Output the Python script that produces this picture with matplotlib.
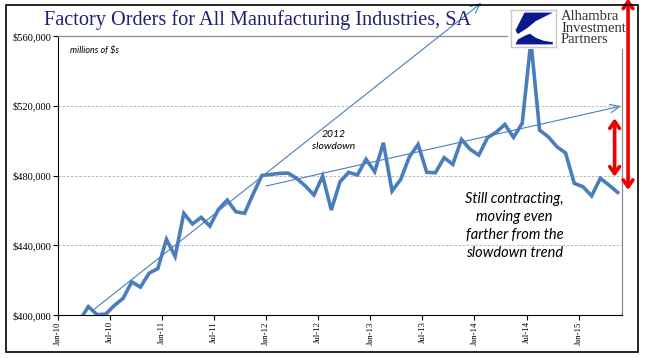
import matplotlib
matplotlib.use("Agg")
import matplotlib.pyplot as plt
from matplotlib.patches import Rectangle, Polygon, FancyArrowPatch
from matplotlib.ticker import FuncFormatter

# monthly factory orders, Jan-10 .. May-15, thousands of millions shown as $
orders = [388, 392, 397, 404.8, 400.2, 400.5, 405.5, 409.5, 419, 416,
          424, 426.6, 443.4, 433.6, 458.3, 452.2, 456, 451, 460.6, 465.9,
          459.2, 458.3, 469.5, 480, 480.6, 481.2, 481.4, 478.4, 474, 468.8,
          479.7, 460.2, 476.4, 481.8, 480.3, 489.3, 482.2, 498.8, 471.1, 477.8,
          490.8, 497.8, 481.8, 481.6, 490.2, 486.4, 500.7, 495, 491.7, 501.7,
          504.8, 509.3, 501.9, 509.9, 557, 506, 502.2, 496.5, 492.9, 475.5,
          473.6, 468.3, 478.4, 474.5, 470.3]
tick_labels = ["Jan-10", "Jul-10", "Jan-11", "Jul-11", "Jan-12", "Jul-12",
               "Jan-13", "Jul-13", "Jan-14", "Jul-14", "Jan-15"]
y_ticks = [400000, 440000, 480000, 520000, 560000]

# hand drawn trend arrows (month position, value)
early_trend = [(4.2, 403.4), (48.8, 579)]
slowdown_trend = [(24.0, 474), (64.9, 519.8)]
gap_short = [(64.15, 512.8), (64.15, 479.3)]
gap_long = [(65.7, 471.7), (65.7, 581.5)]

blue = "#4a7ebb"
serif = "Liberation Serif"

fig = plt.figure(figsize=(6.67, 3.58), dpi=100)
ax = fig.add_axes([58/667, 1-315/358, 564/667, 279/358])

x = [i + 0.5 for i in range(len(orders))]
ax.plot(x, [v*1000 for v in orders], color=blue, lw=2.6, solid_joinstyle="miter", zorder=3)

ax.set_xlim(0, 65)
ax.set_ylim(400000, 560000)
ax.set_xticks(range(0, 61, 6))
ax.set_xticklabels(tick_labels, rotation=90, fontfamily=serif, fontsize=6.3)
ax.set_yticks(y_ticks)
ax.yaxis.set_major_formatter(FuncFormatter(lambda v, p: "${:,.0f}".format(v)))
for lab in ax.get_yticklabels():
    lab.set_fontfamily(serif)
    lab.set_fontsize(7.5)
ax.tick_params(axis="both", direction="out", length=3.5, width=0.8, pad=1.5, colors="black")
ax.tick_params(axis="x", pad=1)
ax.yaxis.grid(True, ls=(0, (3, 2)), color="#b0b0b0", lw=0.6)
ax.spines["left"].set_color("black")
ax.spines["bottom"].set_color("black")
for s in ["top", "right"]:
    ax.spines[s].set_color("#8c8c8c")
    ax.spines[s].set_linewidth(0.9)

def trend(pts):
    ax.annotate("", xy=(pts[1][0], pts[1][1]*1000), xytext=(pts[0][0], pts[0][1]*1000),
                annotation_clip=False,
                arrowprops=dict(arrowstyle="->,head_length=0.7,head_width=0.3",
                                color=blue, lw=0.8, shrinkA=0, shrinkB=0))

trend(early_trend)
trend(slowdown_trend)

ax.text(1.4, 550500, "millions of $s", style="italic", fontfamily="Lato", fontsize=6.5)
ax.text(31.8, 500000, "2012\nslowdown", style="italic", fontfamily="Lato", fontsize=7.5,
        ha="center", va="center", linespacing=1.5)
ax.text(52.6, 451000, "Still contracting,\nmoving even\nfarther from the\nslowdown trend",
        style="italic", fontfamily="Lato", fontsize=10.5, ha="center", va="center",
        linespacing=1.35)

fig.text(258/667, 1-20/358, "Factory Orders for All Manufacturing Industries, SA",
         fontfamily=serif, fontsize=14.6, color="#202078", ha="center", va="center")

# logo block
fig.add_artist(Rectangle((508/667, 1-49/358), 128/667, 41/358, transform=fig.transFigure,
                         facecolor="white", edgecolor="none", zorder=5))
logo = fig.add_axes([511/667, 1-47/358, 45/667, 37/358], zorder=6)
logo.set_xlim(0, 1)
logo.set_ylim(0, 1)
logo.set_xticks([])
logo.set_yticks([])
for s in logo.spines.values():
    s.set_color("#c8c8c8")
    s.set_linewidth(1.0)
navy = "#0a1a8c"
logo.add_patch(Polygon([(0.3, 0.93), (0.93, 0.93), (0.55, 0.7), (0.35, 0.5),
                        (0.15, 0.35), (0.1, 0.45)], closed=True, color=navy, lw=0))
logo.add_patch(Polygon([(0.1, 0.07), (0.93, 0.07), (0.93, 0.13), (0.72, 0.17), (0.55, 0.25),
                        (0.42, 0.36), (0.3, 0.3), (0.15, 0.2)], closed=True, color=navy, lw=0))
fig.text(561/667, 1-28/358, "Alhambra\nInvestment\nPartners", fontfamily=serif,
         fontsize=10.5, color="#303030", ha="left", va="center", linespacing=0.82, zorder=7)

# red gap arrows drawn over everything
for pts in (gap_short, gap_long):
    arr = FancyArrowPatch((pts[0][0], pts[0][1]*1000), (pts[1][0], pts[1][1]*1000),
                          transform=ax.transData,
                          arrowstyle="<->,head_length=5,head_width=3.5",
                          color="#ee0000", lw=2.6, shrinkA=0, shrinkB=0, zorder=8)
    fig.add_artist(arr)

fig.add_artist(Rectangle((6/667, 1-352/358), 632/667, 347/358, transform=fig.transFigure,
                         fill=False, edgecolor="black", lw=1.2, zorder=9))

fig.savefig("out.png", dpi=100)
